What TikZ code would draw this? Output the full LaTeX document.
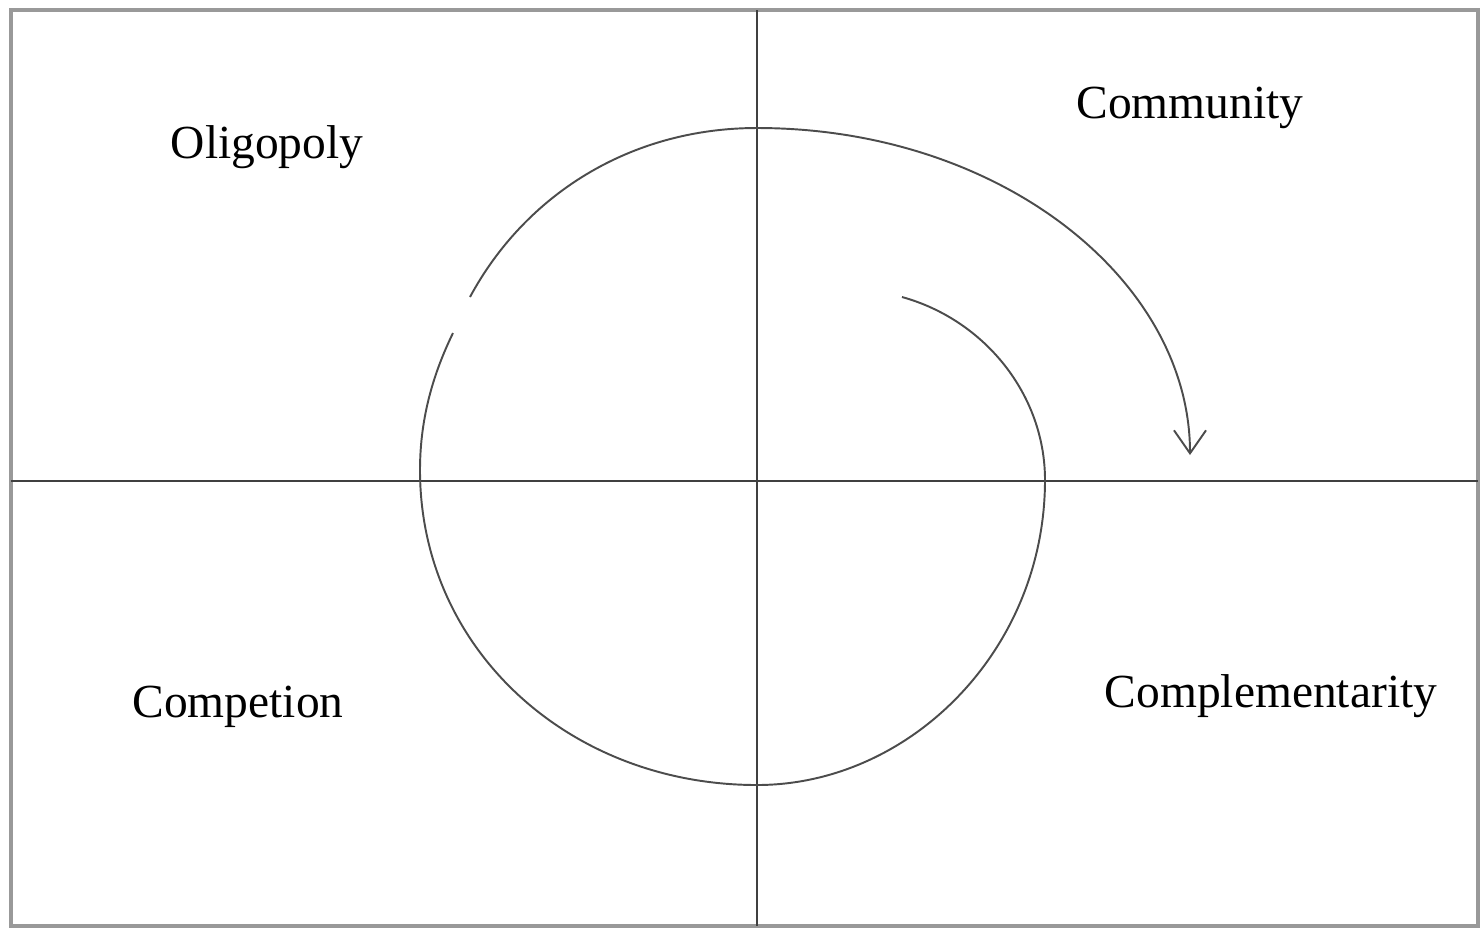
\documentclass[tikz,border=0pt]{standalone}
\usepackage{fontspec}
\setmainfont{Liberation Serif}
\usetikzlibrary{calc,arrows.meta,positioning}
\tikzstyle{frame} = [draw=black!40, line width=0.9pt]
\tikzstyle{axis} = [draw=black!75, line width=0.55pt]
\tikzstyle{spiral} = [draw=black!70, line width=0.55pt]
\tikzstyle{quadtext} = [font=\fontsize{13.5}{16}\selectfont, inner sep=0pt]

\begin{document}
\begin{tikzpicture}[x=0.01cm,y=-0.01cm]
	\useasboundingbox (0,0) rectangle (1481,929);

	%% outer frame and the two axes
	\coordinate (F1) at (11,10);
	\coordinate (F2) at (1478,926);
	\draw[frame] (F1) rectangle (F2);

	\coordinate (T) at (757,10);  % top of vertical axis
	\coordinate (B) at (757,926); % bottom of vertical axis
	\coordinate (L) at (11,481);  % left of horizontal axis
	\coordinate (R) at (1478,481);% right of horizontal axis
	\draw[axis] (T) -- (B);
	\draw[axis] (L) -- (R);

	%% spiral, from the inner end out to the arrow
	\coordinate (S0) at (902,297);  % inner end
	\coordinate (S1) at (1045,480);
	\coordinate (S2) at (757,785);
	\coordinate (S3) at (420,470);
	\coordinate (S4) at (453,333);  % small break in the line
	\coordinate (S5) at (470,297);
	\coordinate (S6) at (757,128);
	\coordinate (S7) at (1190,455); % arrow tip

	\draw[spiral] (S0) .. controls (985,320) and (1045,395) .. (S1)
		.. controls (1045,650) and (910,785) .. (S2)
		.. controls (570,785) and (420,650) .. (S3)
		.. controls (420,415) and (435,370) .. (S4);
	\draw[spiral, -{Straight Barb[length=2.3mm,width=3.2mm]}] (S5)
		.. controls (525,195) and (630,128) .. (S6)
		.. controls (1000,128) and (1190,280) .. (S7);

	%% quadrant labels
	\node[quadtext] (oligo) at (267,147) {Oligopoly};
	\node[quadtext] (commu) at (1190,108) {Community};
	\node[quadtext] (compet) at (238,707) {Competion};
	\node[quadtext] (comple) at (1271,696) {Complementarity};
\end{tikzpicture}
\end{document}
